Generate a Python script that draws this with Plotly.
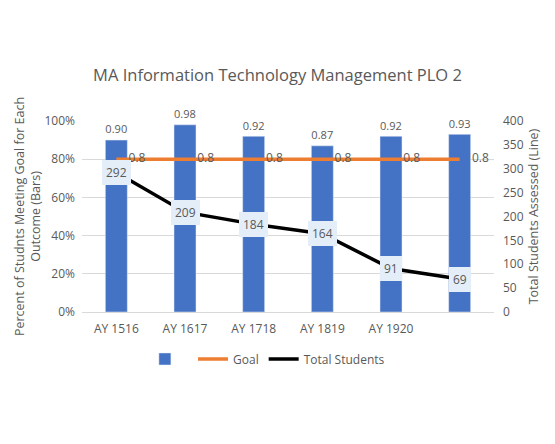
import plotly.graph_objects as go

years = ["AY 1516", "AY 1617", "AY 1718", "AY 1819", "AY 1920", ""]
pct_meeting = [0.90, 0.98, 0.92, 0.87, 0.92, 0.93]
goal = [0.8, 0.8, 0.8, 0.8, 0.8, 0.8]
total_students = [292, 209, 184, 164, 91, 69]

xs = list(range(len(years)))
FONT = "Open Sans"
GRAY = "#595959"

fig = go.Figure()
fig.add_trace(go.Bar(
    x=xs, y=pct_meeting, name=" ", marker_color="#4472C4", width=0.32,
    text=[f"{v:.2f}" for v in pct_meeting], textposition="outside",
    textfont=dict(size=12, color=GRAY), cliponaxis=False,
))
fig.add_trace(go.Scatter(
    x=xs, y=goal, name="Goal", mode="lines+markers+text",
    line=dict(color="#ED7D31", width=3.5),
    marker=dict(size=18, color="rgba(0,0,0,0)"),
    text=[str(v) for v in goal], textposition="middle right",
    textfont=dict(size=12, color=GRAY), cliponaxis=False,
))
fig.add_trace(go.Scatter(
    x=xs, y=total_students, name="Total Students", mode="lines",
    line=dict(color="black", width=3.5), yaxis="y2",
))
for x, v in zip(xs, total_students):
    fig.add_annotation(
        x=x, y=v, xref="x", yref="y2", text=str(v), showarrow=False,
        bgcolor="#e4eef8", bordercolor="#e4eef8", borderpad=3,
        font=dict(size=12, color=GRAY, family=FONT),
    )

fig.update_layout(
    width=555, height=444,
    margin=dict(l=82, r=61, t=121, b=132),
    paper_bgcolor="white", plot_bgcolor="white",
    font=dict(family=FONT, color=GRAY, size=12),
    title=dict(text="MA Information Technology Management PLO 2",
               x=0.5, xanchor="center", y=0.83, yanchor="middle",
               font=dict(size=16.5, color=GRAY, family=FONT)),
    xaxis=dict(tickvals=xs, ticktext=years, range=[-0.5, 5.5],
               showgrid=False, showline=True, linecolor="#d9d9d9",
               tickfont=dict(size=12, color=GRAY), ticks="",
               ticklabelstandoff=6),
    yaxis=dict(range=[0, 1.0], tickvals=[0, 0.2, 0.4, 0.6, 0.8, 1.0],
               tickformat=".0%", gridcolor="#d9d9d9", zeroline=False,
               showline=False, ticks="",
               tickfont=dict(size=12, color=GRAY), ticklabelstandoff=6,
               title=dict(text="Percent of Studnts Meeting Goal for Each<br>Outcome (Bars)",
                          font=dict(size=12.5, color=GRAY), standoff=0)),
    yaxis2=dict(range=[0, 400], tickvals=[0, 50, 100, 150, 200, 250, 300, 350, 400],
                overlaying="y", side="right", showgrid=False, zeroline=False,
                showline=False, ticks="",
                tickfont=dict(size=12, color=GRAY), ticklabelstandoff=8,
                title=dict(text="Total Students Assessed (Line)",
                           font=dict(size=12.5, color=GRAY), standoff=6)),
    legend=dict(orientation="h", x=0.45, xanchor="center", y=-0.17, yanchor="top",
                font=dict(size=12, color=GRAY), traceorder="normal"),
    showlegend=True,
)

fig.write_html("out.html")
